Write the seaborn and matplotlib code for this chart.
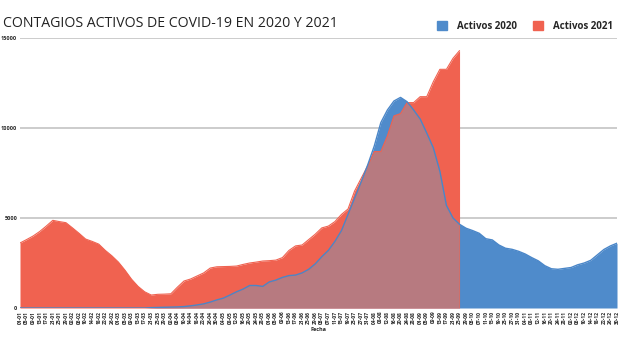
import numpy as np
import pandas as pd
import matplotlib
matplotlib.use("Agg")
import matplotlib.pyplot as plt
import seaborn as sns
from matplotlib.patches import Patch

# ---- data (one point every 4 days) ----
fechas = pd.date_range("2020-01-01", periods=92, freq="4D")
etiquetas = [d.strftime("%d-%m") for d in fechas]

activos_2020 = [
    0, 0, 0, 0, 0, 0, 0, 0, 0, 0,
    0, 0, 0, 0, 0, 0, 0, 0, 0, 0,
    20, 30, 40, 50, 60, 80, 120, 170, 230, 330,
    450, 550, 720, 900, 1050, 1250, 1250, 1200, 1450, 1550,
    1700, 1800, 1830, 1950, 2150, 2450, 2850, 3200, 3700, 4300,
    5200, 6100, 7000, 7950, 9000, 10300, 11000, 11500, 11700, 11460,
    11000, 10500, 9720, 8900, 7600, 5700, 5000, 4650, 4430, 4300,
    4150, 3850, 3780, 3500, 3320, 3260, 3150, 3000, 2800, 2620,
    2350, 2180, 2150, 2200, 2250, 2400, 2500, 2650, 2950, 3250,
    3450, 3600,
]

activos_2021 = [
    3610, 3800, 4000, 4250, 4550, 4870, 4800, 4740, 4450, 4150,
    3830, 3700, 3550, 3200, 2900, 2550, 2100, 1600, 1200, 900,
    720, 760, 770, 790, 1160, 1500, 1610, 1780, 1950, 2220,
    2290, 2300, 2310, 2330, 2420, 2500, 2550, 2610, 2630, 2660,
    2800, 3200, 3450, 3500, 3800, 4100, 4450, 4550, 4800, 5200,
    5500, 6500, 7200, 7900, 8690, 8690, 9560, 10670, 10800, 11410,
    11410, 11740, 11740, 12570, 13260, 13260, 13870, 14300,
]

y_ticks = [0, 5000, 10000, 15000]

BLUE = "#4F8BCB"
RED = "#F06250"
MAUVE = "#B77A80"

sns.set_theme(style="white")
plt.rcParams["font.family"] = ["Open Sans", "DejaVu Sans"]

fig = plt.figure(figsize=(6.27, 3.40), dpi=100)
ax = fig.add_axes([20 / 627, 1 - 308 / 340, 597 / 627, 270 / 340])

x20 = np.arange(len(activos_2020))
x21 = np.arange(len(activos_2021))

df20 = pd.DataFrame({"i": x20, "v": activos_2020})
df21 = pd.DataFrame({"i": x21, "v": activos_2021})

blue_poly = ax.fill_between(df20["i"], 0, df20["v"], color=BLUE, lw=0, zorder=1)
red_poly = ax.fill_between(df21["i"], 0, df21["v"], color=RED, lw=0, zorder=2)
over = ax.fill_between(df20["i"], 0, df20["v"], color=MAUVE, lw=0, zorder=3)
over.set_clip_path(red_poly.get_paths()[0], ax.transData)

sns.lineplot(data=df21, x="i", y="v", ax=ax, color=RED, lw=0.8, zorder=4)
sns.lineplot(data=df20, x="i", y="v", ax=ax, color="#4A86C8", lw=1.0, zorder=5)

ax.set_xlim(0, len(activos_2020) - 1)
ax.set_ylim(0, 15000)
ax.set_yticks(y_ticks)
ax.set_yticklabels([str(v) for v in y_ticks], fontsize=4, fontweight="bold")
ax.yaxis.grid(True, color="#C8C8C8", lw=1.3, zorder=0)
ax.set_axisbelow(True)
ax.tick_params(axis="y", length=0, pad=2)

ax.set_xticks(x20)
ax.set_xticklabels(etiquetas, rotation=90, fontsize=3.6, fontweight="bold")
ax.tick_params(axis="x", length=0, pad=2)
ax.set_xlabel("Fecha", fontsize=4, fontweight="bold", labelpad=2)
ax.set_ylabel("")
for s in ax.spines.values():
    s.set_visible(False)

fig.text(3 / 627, 1 - 27 / 340, "CONTAGIOS ACTIVOS DE COVID-19 EN 2020 Y 2021",
         fontsize=10.2, color="#222222", ha="left", va="baseline")

handles = [Patch(color=BLUE, label="Activos 2020"), Patch(color=RED, label="Activos 2021")]
fig.legend(handles=handles, loc="upper right", bbox_to_anchor=(1 - 14 / 627, 1 - 21 / 340),
           ncol=2, frameon=False, prop={"size": 7, "weight": "bold"},
           handlelength=1.1, handleheight=1.1,
           columnspacing=1.6, handletextpad=1.0, borderaxespad=0.0, borderpad=0.0)

fig.savefig("out.png", dpi=100)
